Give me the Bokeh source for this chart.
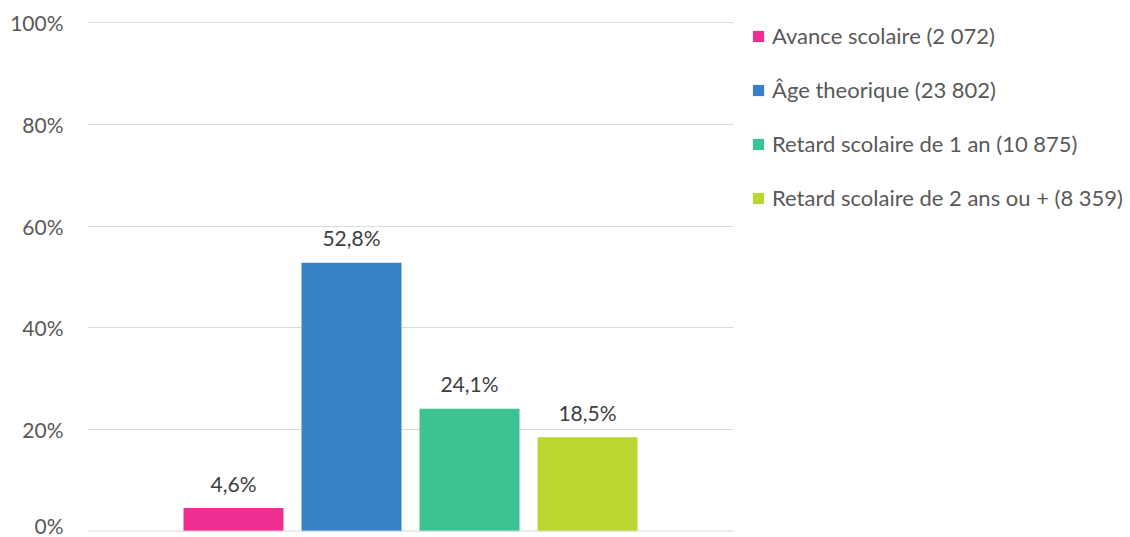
from bokeh.plotting import figure
from bokeh.models import Range1d, FixedTicker, Legend, LegendItem, ColumnDataSource
from bokeh.embed import file_html
from bokeh.resources import INLINE
from bokeh.core.properties import value

categories = ["Avance scolaire (2 072)", "Âge theorique (23 802)",
              "Retard scolaire de 1 an (10 875)", "Retard scolaire de 2 ans ou + (8 359)"]
values = [4.6, 52.8, 24.1, 18.5]
value_labels = ["4,6%", "52,8%", "24,1%", "18,5%"]
colors = ["#EE2F91", "#3782C6", "#3DC391", "#BBD531"]
y_ticks = [0, 20, 40, 60, 80, 100]
y_tick_labels = ["0%", "20%", "40%", "60%", "80%", "100%"]

FONT = "Lato"
n = len(values)
slot = 118.0
bar_w = 100.0 / slot
pad = 87.0 / slot
x_start = -0.5 - pad
x_end = n - 0.5 + pad

p = figure(frame_width=646, frame_height=510,
           x_range=Range1d(x_start, x_end), y_range=Range1d(0, 100.2),
           output_backend="svg", toolbar_location=None,
           min_border_left=87, min_border_top=21, min_border_bottom=6, min_border_right=400)
p.outline_line_color = None
p.background_fill_color = "white"
p.border_fill_color = "white"

# y axis
p.yaxis.ticker = FixedTicker(ticks=y_ticks)
p.yaxis.major_label_overrides = {t: l for t, l in zip(y_ticks, y_tick_labels)}
p.yaxis.axis_line_color = None
p.yaxis.major_tick_line_color = None
p.yaxis.minor_tick_line_color = None
p.yaxis.major_tick_out = 0
p.yaxis.major_tick_in = 0
p.yaxis.major_label_standoff = 24
p.yaxis.major_label_text_font = FONT
p.yaxis.major_label_text_font_size = "21px"
p.yaxis.major_label_text_color = "#595959"
p.ygrid.ticker = FixedTicker(ticks=y_ticks)
p.ygrid.grid_line_color = "#D9D9D9"
p.ygrid.grid_line_width = 1
p.xgrid.grid_line_color = None
p.xaxis.visible = False

items = []
for i, (cat, v, lab, c) in enumerate(zip(categories, values, value_labels, colors)):
    src = ColumnDataSource(dict(x=[i], top=[v], label=[lab]))
    r = p.vbar(x="x", top="top", width=bar_w, source=src, fill_color=c, line_color=None)
    p.text(x="x", y="top", text="label", source=src, text_align="center",
           text_baseline="middle", y_offset=-25, text_font=value(FONT),
           text_font_size="21px", text_color="#404040")
    items.append(LegendItem(label=cat, renderers=[r]))

# baseline (0%) drawn slightly stronger
p.hspan(y=[y_ticks[0]], line_color="#D9D9D9", line_width=2)

legend = Legend(items=items, location=(18, 320),
                glyph_width=14, glyph_height=14, label_standoff=7,
                label_text_font=FONT, label_text_font_size="22px",
                label_text_color="#595959", label_height=25, spacing=27,
                padding=0, margin=0, border_line_color=None,
                background_fill_alpha=0)
p.add_layout(legend, "right")

open("out.html", "w").write(file_html(p, INLINE))
